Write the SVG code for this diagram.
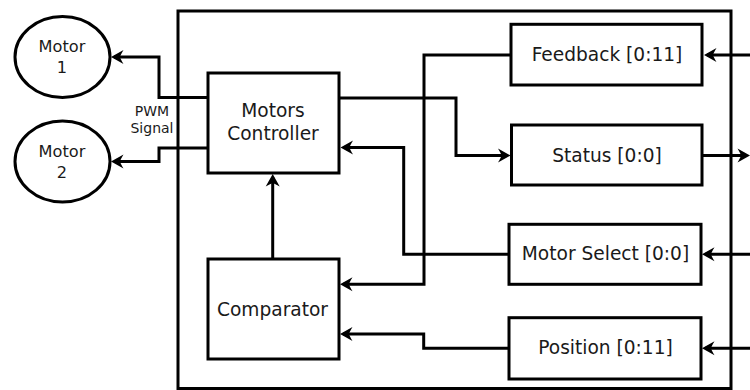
<svg xmlns="http://www.w3.org/2000/svg" width="750" height="390" viewBox="0 0 750 390">
<style>
.box{fill:#fff;stroke:#000;stroke-width:3}
.frame{fill:none;stroke:#000;stroke-width:3}
.ell{fill:#fff;stroke:#000;stroke-width:3}
.lbl{font-family:"DejaVu Sans","Liberation Sans",sans-serif;font-size:18.6px;fill:#1a1a1a;text-anchor:middle}
.mot{font-family:"DejaVu Sans","Liberation Sans",sans-serif;font-size:16.2px;fill:#1a1a1a;text-anchor:middle}
.pwm{font-family:"DejaVu Sans","Liberation Sans",sans-serif;font-size:14px;fill:#1a1a1a;text-anchor:middle}
.wire{fill:none;stroke:#000;stroke-width:3;stroke-linejoin:miter}
.arr{marker-end:url(#ah)}
</style>
<defs>
<marker id="ah" markerUnits="userSpaceOnUse" viewBox="-13 -8 16 16" markerWidth="16" markerHeight="16" refX="-3" refY="0" orient="auto" overflow="visible">
<path d="M0,0 L-12.5,-7 Q-9.5,-2 -9,0 Q-9.5,2 -12.5,7 Z" fill="#000"/>
</marker>
</defs>
<rect id="frame" class="frame" x="178" y="11" width="553" height="377.5"/>
<g id="connectors">
<path class="wire arr" d="M208,97.5 H159 V57 H114"/>
<path class="wire arr" d="M208,148 H159 V161.5 H114"/>
<path class="wire arr" d="M339,98 H456 V155.5 H507.5"/>
<path class="wire arr" d="M511,55 H424 V284.3 H343"/>
<path class="wire arr" d="M509,254.3 H403.7 V147.5 H343.5"/>
<path class="wire arr" d="M509,348.3 H423.7 V334 H343"/>
<path class="wire arr" d="M272.7,259 V177"/>
<path class="wire arr" d="M752,55 H707"/>
<path class="wire arr" d="M702,155.5 H747"/>
<path class="wire arr" d="M752,254.3 H705"/>
<path class="wire arr" d="M752,348.3 H705"/>
</g>
<g id="motor1">
<ellipse class="ell" cx="62.5" cy="57" rx="47.5" ry="40.5"/>
<text class="mot" x="62" y="51.7">Motor</text>
<text class="mot" x="62" y="72.7">1</text>
</g>
<g id="motor2">
<ellipse class="ell" cx="62.5" cy="161.5" rx="47.5" ry="40.5"/>
<text class="mot" x="62" y="156.7">Motor</text>
<text class="mot" x="62" y="177.7">2</text>
</g>
<g id="pwm">
<text class="pwm" x="152" y="116">PWM</text>
<text class="pwm" x="152" y="132.7">Signal</text>
</g>
<g id="motors-controller">
<rect class="box" x="208" y="73" width="131" height="100"/>
<text class="lbl" x="273" y="117.3">Motors</text>
<text class="lbl" x="273" y="140">Controller</text>
</g>
<g id="comparator">
<rect class="box" x="208" y="259" width="131" height="100"/>
<text class="lbl" x="272.5" y="315.7">Comparator</text>
</g>
<g id="feedback">
<rect class="box" x="511" y="24.3" width="191" height="60.7"/>
<text class="lbl" x="607" y="61">Feedback [0:11]</text>
</g>
<g id="status">
<rect class="box" x="511.5" y="125" width="190.5" height="60"/>
<text class="lbl" x="607" y="161.7">Status [0:0]</text>
</g>
<g id="motor-select">
<rect class="box" x="509" y="224.3" width="192" height="60"/>
<text class="lbl" x="605.5" y="260">Motor Select [0:0]</text>
</g>
<g id="position">
<rect class="box" x="509" y="317.7" width="192" height="61.3"/>
<text class="lbl" x="605.5" y="354.3">Position [0:11]</text>
</g>
</svg>
